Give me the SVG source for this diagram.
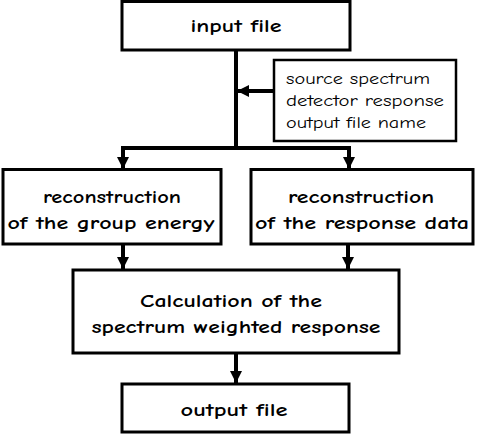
<svg xmlns="http://www.w3.org/2000/svg" width="479" height="434" viewBox="0 0 479 434">
<style>
.box{fill:#fff;stroke:#000;stroke-width:3}
.thin{fill:#fff;stroke:#000;stroke-width:2.5}
.t{font-family:"Comic Sans MS","Comic Neue","DejaVu Sans",sans-serif;font-weight:bold;font-size:17px;fill:#000;text-anchor:middle}
.s{font-family:"Comic Sans MS","Comic Neue","DejaVu Sans",sans-serif;font-size:16px;fill:#000}
.c{fill:none;stroke:#000;stroke-width:4}
</style>
<defs>
<marker id="ah" markerWidth="12" markerHeight="12" viewBox="0 0 12 12" refX="12" refY="6" orient="auto" markerUnits="userSpaceOnUse">
<path d="M0,0 L12,6 L0,12 Z" fill="#000"/>
</marker>
</defs>
<g id="connectors">
<path class="c" d="M236,50 V148"/>
<path class="c" d="M122,148 H350"/>
<path class="c" d="M123,146 V169" marker-end="url(#ah)"/>
<path class="c" d="M349,146 V169" marker-end="url(#ah)"/>
<path class="c" d="M273,91 H237" marker-end="url(#ah)"/>
<path class="c" d="M123,244 V269" marker-end="url(#ah)"/>
<path class="c" d="M348,244 V269" marker-end="url(#ah)"/>
<path class="c" d="M236,353 V383" marker-end="url(#ah)"/>
</g>
<g id="input">
<rect class="box" x="122" y="1.5" width="228" height="48.5"/>
<text class="t" x="236" y="32" textLength="91" lengthAdjust="spacingAndGlyphs">input file</text>
</g>
<g id="params">
<rect class="thin" x="274" y="60" width="182" height="81"/>
<text class="s" x="286" y="84" textLength="144" lengthAdjust="spacingAndGlyphs">source spectrum</text>
<text class="s" x="286" y="106" textLength="158" lengthAdjust="spacingAndGlyphs">detector response</text>
<text class="s" x="286" y="128" textLength="140" lengthAdjust="spacingAndGlyphs">output file name</text>
</g>
<g id="groupEnergy">
<rect class="box" x="3" y="169.5" width="218" height="74.5"/>
<text class="t" x="112" y="203" textLength="138" lengthAdjust="spacingAndGlyphs">reconstruction</text>
<text class="t" x="111" y="229" textLength="207" lengthAdjust="spacingAndGlyphs">of the group energy</text>
</g>
<g id="responseData">
<rect class="box" x="251" y="169.5" width="222" height="74.5"/>
<text class="t" x="361" y="203" textLength="146" lengthAdjust="spacingAndGlyphs">reconstruction</text>
<text class="t" x="362" y="229" textLength="214" lengthAdjust="spacingAndGlyphs">of the response data</text>
</g>
<g id="calculation">
<rect class="box" x="73" y="270" width="326" height="83"/>
<text class="t" x="231" y="307" textLength="182" lengthAdjust="spacingAndGlyphs">Calculation of the</text>
<text class="t" x="236" y="333" textLength="289" lengthAdjust="spacingAndGlyphs">spectrum weighted response</text>
</g>
<g id="output">
<rect class="box" x="122" y="384" width="227" height="48"/>
<text class="t" x="234" y="416" textLength="107" lengthAdjust="spacingAndGlyphs">output file</text>
</g>
</svg>
